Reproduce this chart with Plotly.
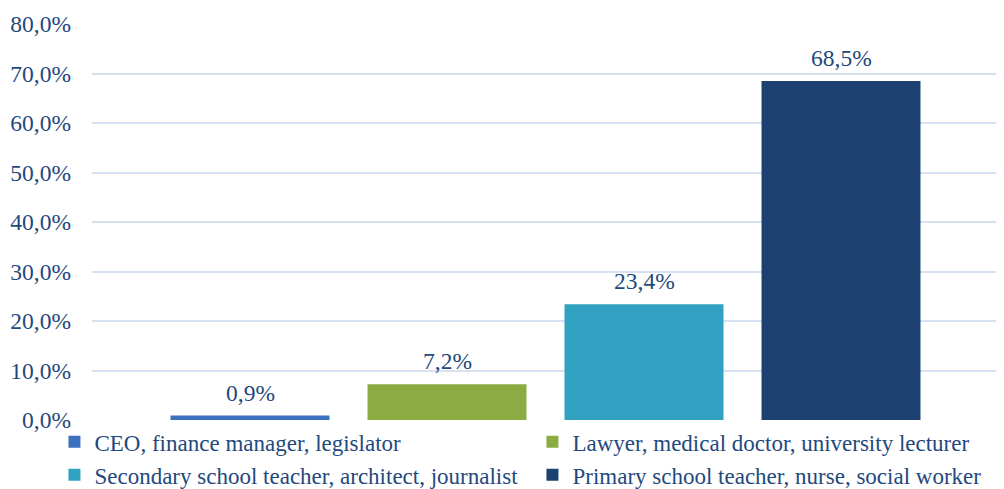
import plotly.graph_objects as go

series_names = [
    "CEO, finance manager, legislator",
    "Lawyer, medical doctor, university lecturer",
    "Secondary school teacher, architect, journalist",
    "Primary school teacher, nurse, social worker",
]
series_values = [0.009, 0.072, 0.234, 0.685]
series_labels = ["0,9%", "7,2%", "23,4%", "68,5%"]
series_colors = ["#3c71c0", "#8aac42", "#31a2c1", "#1c4170"]
tick_values = [0, 0.1, 0.2, 0.3, 0.4, 0.5, 0.6, 0.7, 0.8]

text_color = "#1f497d"
font_family = "Liberation Serif, Times New Roman, serif"
fs = 23.5

fig = go.Figure()
for i, (name, val, col) in enumerate(zip(series_names, series_values, series_colors)):
    fig.add_trace(go.Bar(
        x=[i], y=[val], name=name, width=0.807,
        marker=dict(color=col, line=dict(width=0)),
    ))
    fig.add_annotation(
        x=i, y=val, xref="x", yref="y", text=series_labels[i],
        showarrow=False, yanchor="bottom", yshift=8,
        font=dict(color=text_color, size=fs, family=font_family),
    )

# page body has an 8px margin, so the figure is sized to the visible area
fig.update_layout(
    width=996, height=481,
    paper_bgcolor="white", plot_bgcolor="white",
    margin=dict(l=84, r=5, t=16, b=69, autoexpand=False),
    barmode="overlay",
    separators=", ",
    font=dict(family=font_family, size=fs, color=text_color),
    showlegend=True,
    legend=dict(
        orientation="h", x=-0.0414, xanchor="left", y=-0.001, yanchor="top",
        entrywidth=433, entrywidthmode="pixels",
        itemwidth=30, traceorder="normal",
        font=dict(size=23, color=text_color, family=font_family),
        tracegroupgap=0, bgcolor="rgba(0,0,0,0)",
    ),
)
fig.update_yaxes(
    range=[0, 0.8], tickvals=tick_values, tickformat=".1%",
    showgrid=True, gridcolor="#d6e1f2", gridwidth=2,
    zeroline=False, showline=False, ticks="",
    ticklabelstandoff=20,
    tickfont=dict(size=fs, color=text_color, family=font_family),
)
fig.update_xaxes(range=[-0.802, 3.802], showticklabels=False, showline=False,
                 ticks="", showgrid=False, zeroline=False)

fig.write_html("out.html")
